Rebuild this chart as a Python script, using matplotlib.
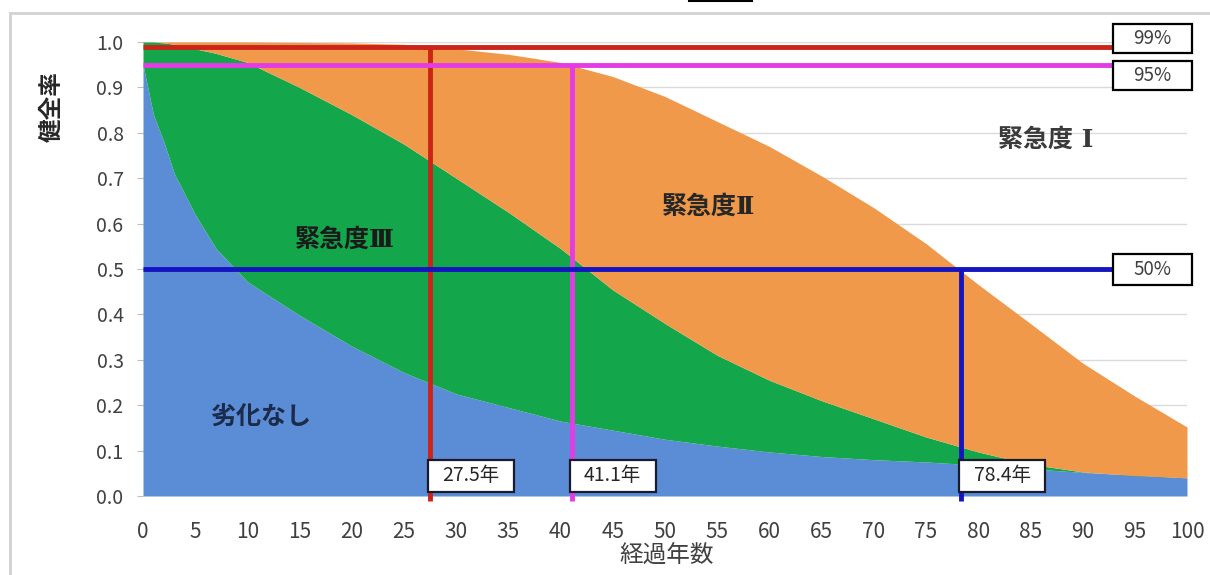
import matplotlib
matplotlib.use('Agg')
import matplotlib.pyplot as plt
from matplotlib.lines import Line2D
from matplotlib.patches import Rectangle

plt.rcParams['font.family'] = ['Noto Sans CJK JP', 'DejaVu Sans']

# ---- data ----
years = [0, 1, 2, 3, 5, 7, 10, 15, 20, 25, 30, 35, 40, 45, 50, 55, 60, 65, 70, 75, 80, 85, 90, 95, 100]
no_deterioration = [0.95, 0.84, 0.78, 0.71, 0.62, 0.545, 0.472, 0.398, 0.33, 0.272, 0.225, 0.195, 0.165,
                    0.145, 0.125, 0.11, 0.097, 0.087, 0.08, 0.075, 0.068, 0.06, 0.052, 0.046, 0.04]
urgency3_top = [1.0, 1.0, 0.998, 0.995, 0.985, 0.975, 0.955, 0.90, 0.84, 0.775, 0.70, 0.625, 0.545,
                0.454, 0.38, 0.31, 0.255, 0.21, 0.17, 0.13, 0.097, 0.07, 0.053, 0.045, 0.04]
urgency2_top = [1.0, 1.0, 1.0, 1.0, 1.0, 1.0, 1.0, 0.999, 0.998, 0.995, 0.985, 0.973, 0.955,
                0.924, 0.88, 0.825, 0.77, 0.705, 0.635, 0.556, 0.466, 0.38, 0.293, 0.22, 0.152]

threshold_levels = [0.99, 0.95, 0.50]
threshold_labels = ['99%', '95%', '50%']
threshold_years = [27.5, 41.1, 78.4]
year_labels = ['27.5年', '41.1年', '78.4年']

region_labels = ['劣化なし', '緊急度Ⅲ', '緊急度Ⅱ', '緊急度 Ⅰ']
x_ticks = list(range(0, 101, 5))
y_ticks = [0.0, 0.1, 0.2, 0.3, 0.4, 0.5, 0.6, 0.7, 0.8, 0.9, 1.0]

# ---- styles ----
c_blue, c_green, c_orange = '#5B8CD6', '#13A64B', '#F1994A'
line_colors = ['#CC2418', '#E43CE4', '#1414C0']
label_family = ['DejaVu Serif', 'Noto Sans CJK JP']

fig = plt.figure(figsize=(12.1, 5.75), dpi=100)
W, H = 1210, 575
ax = fig.add_axes([143 / W, 1 - 496 / H, (1187 - 143) / W, (496 - 42) / H])
ax.set_xlim(0, 100)
ax.set_ylim(0, 1.0)

ax.fill_between(years, 0, no_deterioration, color=c_blue, lw=0, zorder=2)
ax.fill_between(years, no_deterioration, urgency3_top, color=c_green, lw=0, zorder=2)
ax.fill_between(years, urgency3_top, urgency2_top, color=c_orange, lw=0, zorder=2)

ax.set_yticks(y_ticks)
ax.set_yticklabels([f'{v:.1f}' for v in y_ticks])
ax.set_xticks(x_ticks)
ax.set_xticklabels([str(v) for v in x_ticks])
ax.yaxis.grid(True, color='#dadada', lw=1)
ax.set_axisbelow(True)
for s in ax.spines.values():
    s.set_visible(False)
ax.tick_params(axis='y', length=4, color='#bfbfbf', pad=10, labelsize=14, labelcolor='#404040')
ax.tick_params(axis='x', length=0, pad=18, labelsize=15, labelcolor='#404040')

# threshold lines
for lvl, yr, col in zip(threshold_levels, threshold_years, line_colors):
    ax.plot([0, 92.9], [lvl, lvl], color=col, lw=3.5, zorder=4, solid_capstyle='butt', clip_on=False)
    ax.plot([yr, yr], [-0.01, lvl], color=col, lw=3.5, zorder=4, solid_capstyle='butt', clip_on=False)

# percentage boxes
pct_box_y = [(0.976, 1.040), (0.894, 0.958), (0.465, 0.533)]
for lab, (y0, y1) in zip(threshold_labels, pct_box_y):
    ax.add_patch(Rectangle((92.9, y0), 7.6, y1 - y0, facecolor='white', edgecolor='black',
                           lw=1.6, zorder=6, clip_on=False))
    ax.text(96.7, (y0 + y1) / 2, lab, ha='center', va='center', fontsize=13.5,
            color='#404040', zorder=7, clip_on=False)

# year boxes
for yr, lab in zip(threshold_years, year_labels):
    ax.add_patch(Rectangle((yr - 0.2, 0.009), 8.2, 0.071, facecolor='white', edgecolor='#1a1a2a',
                           lw=1.6, zorder=6, clip_on=False))
    ax.text(yr + 3.9, 0.0445, lab, ha='center', va='center', fontsize=14,
            color='#262626', zorder=7)

# region labels
ax.text(11.3, 0.174, region_labels[0], ha='center', va='center', fontsize=18,
        fontweight='bold', color='#1c2b4a', zorder=5)
ax.text(19.3, 0.564, region_labels[1], ha='center', va='center', fontsize=18,
        fontweight='bold', color='#1a1a1a', zorder=5, family=label_family)
ax.text(54.2, 0.637, region_labels[2], ha='center', va='center', fontsize=18,
        fontweight='bold', color='#262626', zorder=5, family=label_family)
ax.text(86.5, 0.784, region_labels[3], ha='center', va='center', fontsize=18,
        fontweight='bold', color='#3a3a3a', zorder=5, family=label_family)

# axis titles
fig.text(52 / W, 1 - 107 / H, '健全率', rotation=90, ha='center', va='center',
         fontsize=17, fontweight='bold', color='#262626')
fig.text(667 / W, 1 - 556 / H, '経過年数', ha='center', va='center',
         fontsize=17, color='#404040')

# outer frame lines
fig.add_artist(Line2D([10 / W, 1.0], [1 - 13 / H, 1 - 13 / H], transform=fig.transFigure,
                      color='#d2d2d2', lw=2))
fig.add_artist(Line2D([10 / W, 10 / W], [0, 1 - 13 / H], transform=fig.transFigure,
                      color='#d2d2d2', lw=2))
fig.add_artist(Line2D([689 / W, 752 / W], [1 - 1 / H, 1 - 1 / H], transform=fig.transFigure,
                      color='black', lw=1.5))

fig.savefig('out.png', dpi=100, facecolor='white')
